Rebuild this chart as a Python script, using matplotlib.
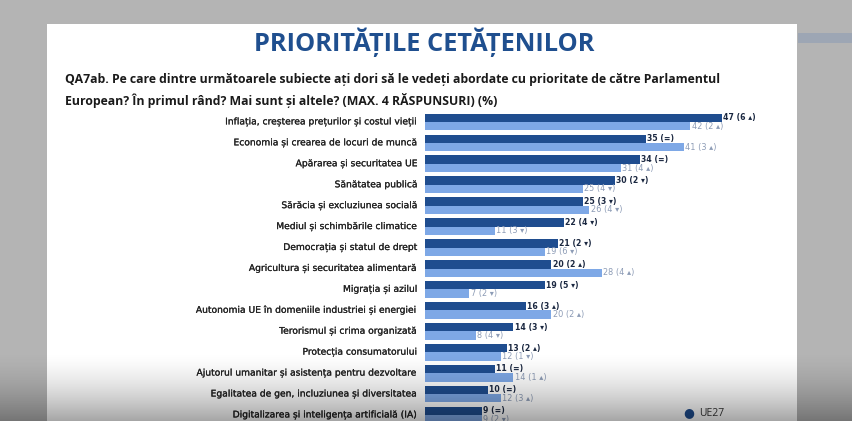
import matplotlib
matplotlib.use('Agg')
import matplotlib.pyplot as plt
import matplotlib.transforms as mtransforms
import matplotlib.patheffects as pe
from matplotlib.patches import Rectangle
import numpy as np

# ---------------- data ----------------
categories = [
    "Inflația, creșterea prețurilor și costul vieții",
    "Economia și crearea de locuri de muncă",
    "Apărarea și securitatea UE",
    "Sănătatea publică",
    "Sărăcia și excluziunea socială",
    "Mediul și schimbările climatice",
    "Democrația și statul de drept",
    "Agricultura și securitatea alimentară",
    "Migrația și azilul",
    "Autonomia UE în domeniile industriei și energiei",
    "Terorismul și crima organizată",
    "Protecția consumatorului",
    "Ajutorul umanitar și asistența pentru dezvoltare",
    "Egalitatea de gen, incluziunea și diversitatea",
    "Digitalizarea și inteligența artificială (IA)",
]
ro_values = [47, 35, 34, 30, 25, 22, 21, 20, 19, 16, 14, 13, 11, 10, 9]
ro_changes = ["6 ▴", "=", "=", "2 ▾", "3 ▾", "4 ▾", "2 ▾", "2 ▴", "5 ▾",
              "3 ▴", "3 ▾", "2 ▴", "=", "=", "="]
eu_values = [42, 41, 31, 25, 26, 11, 19, 28, 7, 20, 8, 12, 14, 12, 9]
eu_changes = ["2 ▴", "3 ▴", "4 ▴", "4 ▾", "4 ▾", "3 ▾", "6 ▾", "4 ▴", "2 ▾",
              "2 ▴", "4 ▾", "1 ▾", "1 ▴", "3 ▴", "2 ▾"]
title = "PRIORITĂȚILE CETĂȚENILOR"
question = ["QA7ab. Pe care dintre următoarele subiecte ați dori să le vedeți abordate cu prioritate de către Parlamentul",
            "European? În primul rând? Mai sunt și altele? (MAX. 4 RĂSPUNSURI) (%)"]
legend_label = "UE27"

# ---------------- figure ----------------
W, H = 853, 421
fig = plt.figure(figsize=(W / 100, H / 100), dpi=100)
fig.patch.set_facecolor('#b4b4b4')

def fx(x):
    return x / W

def fy(y):
    return 1 - y / H

# slide background
fig.patches.append(Rectangle((fx(47), 0), fx(797) - fx(47), fy(24), transform=fig.transFigure,
                             facecolor='white', edgecolor='none', zorder=0))
# blurred bits on the right side
fig.patches.append(Rectangle((fx(798), fy(43)), 1 - fx(798), fy(33) - fy(43), transform=fig.transFigure,
                             facecolor='#8196b6', edgecolor='none', zorder=0, alpha=0.45))

DARK = '#1f4d8f'
LIGHT = '#7ea8e6'

# ---------------- axes ----------------
pitch = 20.93
row0 = 122.0
scale = 6.32  # px per unit
xmax = 60
ax_left = 425
ax_top = row0 - pitch
ax_bot = row0 + 15 * pitch
ax = fig.add_axes([fx(ax_left), fy(ax_bot), xmax * scale / W, (ax_bot - ax_top) / H], zorder=2)
ax.set_xlim(0, xmax)
ax.set_ylim(15, -1)
ax.axis('off')

y = np.arange(len(categories))
bh = 0.40
ax.barh(y - bh / 2, ro_values, height=bh, color=DARK, edgecolor='none')
ax.barh(y + bh / 2, eu_values, height=bh, color=LIGHT, edgecolor='none')

renderer = fig.canvas.get_renderer()

def fit(texts, target):
    w = max(t.get_window_extent(renderer=renderer).width for t in texts)
    for t in texts:
        t.set_fontsize(t.get_fontsize() * target / w)

# value labels
for i, (v, c) in enumerate(zip(ro_values, ro_changes)):
    ax.text(v + 0.2, i - bh / 2, f"{v} ({c})", va='center', ha='left', fontsize=5.6,
            fontweight='bold', color='#1a2740', family=['DejaVu Sans'], clip_on=False)
for i, (v, c) in enumerate(zip(eu_values, eu_changes)):
    ax.text(v + 0.2, i + bh / 2, f"{v} ({c})", va='center', ha='left', fontsize=5.9,
            color='#8d9cb6', family=['DejaVu Sans'], clip_on=False)

# category labels
lab_tr = mtransforms.offset_copy(ax.get_yaxis_transform(), fig=fig, x=-7, y=0, units='dots')
cl = []
for i, c in enumerate(categories):
    cl.append(ax.text(0, i, c, transform=lab_tr, ha='right', va='center', fontsize=6.5,
                      color='#222222', family=['DejaVu Sans'], clip_on=False,
                      path_effects=[pe.withStroke(linewidth=0.15, foreground='#222222')]))
fit([cl[9]], 222)
for t in cl:
    t.set_fontsize(cl[9].get_fontsize())

# title and question
tt = fig.text(fx(424), fy(42), title, ha='center', va='center', fontsize=16, fontweight='bold',
              color='#1f4f8f', family=['Open Sans', 'DejaVu Sans'])
fit([tt], 342)
q1 = fig.text(fx(65), fy(80), question[0], ha='left', va='center', fontsize=9, fontweight='bold',
              color='#1a1a1a', family=['Open Sans', 'DejaVu Sans'])
q2 = fig.text(fx(65), fy(101), question[1], ha='left', va='center', fontsize=9, fontweight='bold',
              color='#1a1a1a', family=['Open Sans', 'DejaVu Sans'])
fit([q1], 655)
q2.set_fontsize(q1.get_fontsize())

# legend
fig.text(fx(689), fy(413), "●", ha='center', va='center', fontsize=9, color=DARK)
fig.text(fx(699), fy(413), legend_label, ha='left', va='center', fontsize=7.5, color='#333333',
         family=['Open Sans', 'DejaVu Sans'])

# bottom darkening gradient (video overlay)
ov = fig.add_axes([0, 0, 1, 1], zorder=10)
ov.axis('off')
rows = np.arange(H)
alpha = np.clip((rows - 350) / (H - 350), 0, 1) ** 1.6 * 0.36
grad = np.zeros((H, 1, 4))
grad[:, 0, 3] = alpha
ov.imshow(grad, extent=(0, 1, 0, 1), aspect='auto', origin='upper')
ov.set_xlim(0, 1)
ov.set_ylim(0, 1)

fig.savefig('out.png', dpi=100, facecolor=fig.get_facecolor())
